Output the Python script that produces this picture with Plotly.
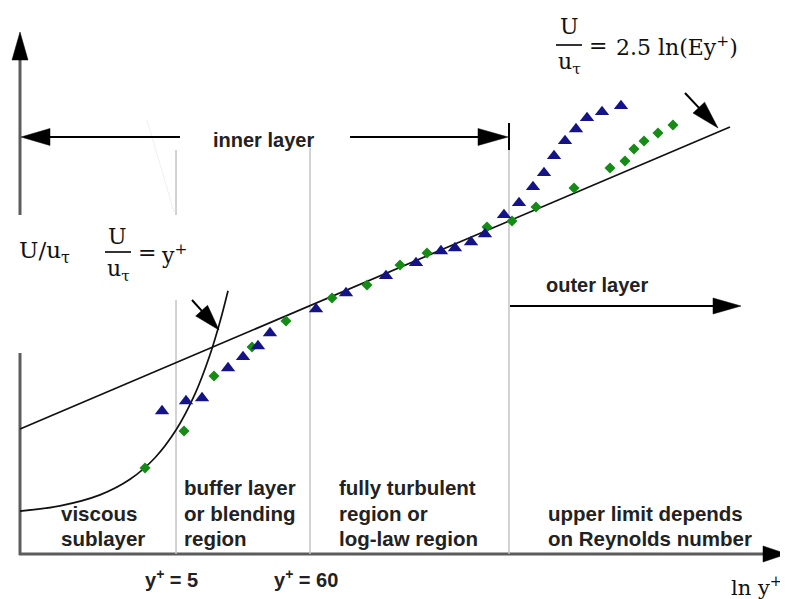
import math
import plotly.graph_objects as go

# page is 788x599; the browser body has an 8px margin, so the figure is 780x591
OFF = 8
W, H = 780, 591

# ---------------- data (x = ln y+, y = U/u_tau, schematic scale) ----------------
blue_lny = [1.350, 1.795, 2.092, 2.574, 2.852, 3.130, 3.352, 4.206, 4.762, 5.503,
            6.060, 6.523, 6.783, 7.080, 7.339, 7.691, 7.970, 8.229, 8.433, 8.619,
            8.823, 9.027, 9.231, 9.509, 9.861]
blue_u = [6.111, 6.694, 6.869, 8.618, 9.260, 9.901, 10.659, 12.058, 12.991, 13.983,
          14.741, 15.440, 15.615, 15.965, 16.431, 17.540, 18.240, 19.173, 19.989, 20.980,
          21.855, 22.554, 23.196, 23.546, 23.896]

green_lny = [1.035, 1.758, 2.314, 3.019, 3.649, 4.502, 5.151, 5.763, 6.264, 7.376,
             7.840, 8.285, 8.990, 9.657, 9.935, 10.102, 10.288, 10.547, 10.825]
green_u = [2.787, 4.945, 8.152, 9.843, 11.359, 12.700, 13.458, 14.624, 15.324, 16.840,
           17.190, 18.006, 19.114, 20.280, 20.688, 21.388, 21.855, 22.321, 22.788]

loglaw_lny = [-1.283, 11.882]
loglaw_u = [5.061, 22.671]

visc_lny = [-1.283, -0.542, 0.200, 0.757, 1.220, 1.609, 1.962, 2.240, 2.425, 2.574]
visc_u = [0.277, 0.582, 1.222, 2.131, 3.387, 5.00, 7.11, 9.39, 11.31, 13.12]

region_yplus = [5, 60]
outer_start_lny = 7.784

x_range = [-1.506, 12.958]
y_range = [-4.851, 29.609]

region_labels = [
    (["", "viscous", "sublayer"], 59),
    (["buffer layer", "or blending", "region"], 182),
    (["fully turbulent", "region or", "log-law region"], 337),
    (["", "upper limit depends", "on Reynolds number"], 546),
]

# ---------------- helpers for decoration placement (page pixels) ----------------
def px(x):
    return (x - OFF) / W


def py(y):
    return 1 - (y - OFF) / H


AXIS_C = "#5c5c5c"
GRID_C = "#c4c4c4"
BLACK = "#000000"

shapes = []


def seg(x0, y0, x1, y1, color=BLACK, width=2):
    shapes.append(dict(type="line", xref="paper", yref="paper",
                       x0=px(x0), y0=py(y0), x1=px(x1), y1=py(y1),
                       line=dict(color=color, width=width), layer="below"))


def arrow(tip, direction, L, w, shaft_from=None, width=2, color=BLACK):
    tx, ty = tip
    dx, dy = direction
    n = math.hypot(dx, dy)
    dx, dy = dx / n, dy / n
    bx, by = tx - L * dx, ty - L * dy
    nx, ny = -dy, dx
    p1 = (bx + w * nx, by + w * ny)
    p2 = (bx - w * nx, by - w * ny)
    path = "M{:.5f},{:.5f} L{:.5f},{:.5f} L{:.5f},{:.5f} Z".format(
        px(tx), py(ty), px(p1[0]), py(p1[1]), px(p2[0]), py(p2[1]))
    if shaft_from is not None:
        seg(shaft_from[0], shaft_from[1], bx + 2 * dx, by + 2 * dy, color, width)
    shapes.append(dict(type="path", xref="paper", yref="paper", path=path,
                       fillcolor=color, line=dict(color=color, width=0.5)))


# axes
seg(19, 554, 766, 554, AXIS_C, 3)
seg(20, 555, 20, 353, AXIS_C, 3)
seg(20, 215, 20, 58, AXIS_C, 3)
arrow((20, 32), (0, -1), 28, 8)
arrow((787, 554), (1, 0), 24, 8)

# region boundaries
for i, yp in enumerate(region_yplus):
    xv = math.log(yp)
    segs = [(150, 215), (300, 554)] if i == 0 else [(148, 554)]
    for a, b in segs:
        shapes.append(dict(type="line", xref="x", yref="paper", x0=xv, x1=xv,
                           y0=py(a), y1=py(b), line=dict(color=GRID_C, width=1.5),
                           layer="below"))
shapes.append(dict(type="line", xref="x", yref="paper", x0=outer_start_lny,
                   x1=outer_start_lny, y0=py(148), y1=py(554),
                   line=dict(color=GRID_C, width=1.5), layer="below"))
shapes.append(dict(type="line", xref="x", yref="paper", x0=outer_start_lny,
                   x1=outer_start_lny, y0=py(123), y1=py(150),
                   line=dict(color=BLACK, width=2)))

# faint leftover line
seg(147, 120, 174, 212, "#f0f0f0", 1)

# inner / outer layer arrows
arrow((21, 137), (-1, 0), 29, 8.5, shaft_from=(180, 137))
arrow((508, 137), (1, 0), 30, 8.5, shaft_from=(350, 137))
arrow((741, 306), (1, 0), 28, 8, shaft_from=(510, 306))

# equation pointers
arrow((718, 128), (33, 35), 28, 8, shaft_from=(685, 93))
arrow((219, 330), (27, 30), 26, 8, shaft_from=(192, 300))

# fraction bars
seg(556, 45, 582, 45, BLACK, 1.6)
seg(105, 252, 131, 252, BLACK, 1.6)

# ---------------- traces ----------------
fig = go.Figure()
fig.add_trace(go.Scatter(x=loglaw_lny, y=loglaw_u, mode="lines",
                         line=dict(color="#111111", width=1.7), hoverinfo="skip"))
fig.add_trace(go.Scatter(x=visc_lny, y=visc_u, mode="lines",
                         line=dict(color="#111111", width=1.7, shape="spline"),
                         hoverinfo="skip"))
fig.add_trace(go.Scatter(x=green_lny, y=green_u, mode="markers",
                         marker=dict(symbol="diamond", size=8.5, color="#168c16",
                                     line=dict(width=0))))
fig.add_trace(go.Scatter(x=blue_lny, y=blue_u, mode="markers",
                         marker=dict(symbol="triangle-up", size=12.5, color="#141488",
                                     line=dict(width=0))))

# ---------------- text ----------------
SANS = "Liberation Sans, Arial, sans-serif"
SERIF = "DejaVu Serif, serif"
annotations = []


def txt(x, y, s, size=20.5, family=SANS, xanchor="left", yanchor="middle", bold=True):
    annotations.append(dict(xref="paper", yref="paper", x=px(x), y=py(y),
                            text=("<b>" + s + "</b>") if bold else s,
                            showarrow=False, xanchor=xanchor, yanchor=yanchor,
                            font=dict(family=family, size=size,
                                      color="#222222" if bold else "#111111")))


txt(263, 140, "inner layer", xanchor="center", size=20)
txt(597, 285, "outer layer", xanchor="center", size=20)
line_y = [487, 513, 538]
for lines, x0 in region_labels:
    for s, yy in zip(lines, line_y):
        if s:
            txt(x0, yy, s)
txt(171, 578, "y<sup>+</sup> = 5", xanchor="center", size=20)
txt(306, 578, "y<sup>+</sup> = 60", xanchor="center", size=20)

# serif math labels
txt(729, 586, "ln y<sup>+</sup>", size=21, family=SERIF, bold=False)
txt(17, 252, "U/u<sub>τ</sub>", size=23, family=SERIF, bold=False)
txt(117, 236, "U", size=22, family=SERIF, xanchor="center", bold=False)
txt(118, 270, "u<sub>τ</sub>", size=22, family=SERIF, xanchor="center", bold=False)
txt(147, 252, "=", size=22, family=SERIF, xanchor="center", bold=False)
txt(159, 254, "y<sup>+</sup>", size=22, family=SERIF, bold=False)
txt(569, 27, "U", size=22, family=SERIF, xanchor="center", bold=False)
txt(569, 64, "u<sub>τ</sub>", size=22, family=SERIF, xanchor="center", bold=False)
txt(598, 45, "=", size=22, family=SERIF, xanchor="center", bold=False)
txt(614, 46, "2.5 ln(Ey<sup>+</sup>)", size=22, family=SERIF, bold=False)

fig.update_layout(
    width=W, height=H,
    margin=dict(l=0, r=0, t=0, b=0, pad=0),
    paper_bgcolor="white", plot_bgcolor="white",
    showlegend=False,
    xaxis=dict(range=x_range, visible=False, fixedrange=True),
    yaxis=dict(range=y_range, visible=False, fixedrange=True),
    shapes=shapes,
    annotations=annotations,
)

fig.write_html("out.html", config={"displayModeBar": False})
